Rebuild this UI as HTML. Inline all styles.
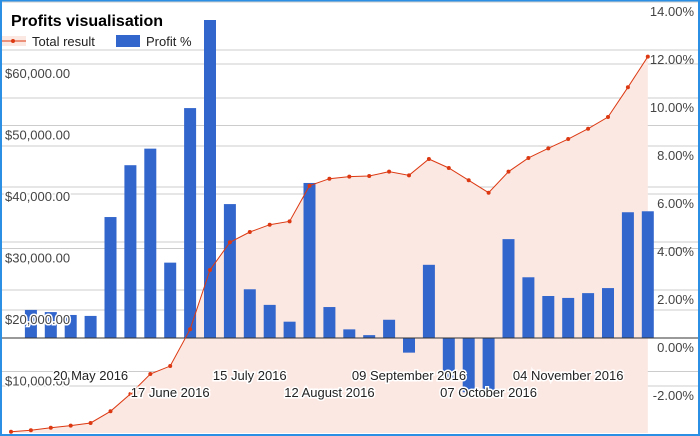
<!DOCTYPE html>
<html><head><meta charset="utf-8"><style>
html,body{margin:0;padding:0;background:#fff}
svg{display:block;font-family:"Liberation Sans",Arial,sans-serif}
</style></head><body>
<svg id="chart" width="700" height="436" viewBox="0 0 700 436">
<rect x="1" y="1" width="698" height="434" fill="#fff" stroke="#2b8fe3" stroke-width="2"/>
<g id="grid"></g><g id="area"></g><g id="bars"></g><g id="line"></g><g id="labels"></g>
<text x="11" y="26" font-size="16" font-weight="bold" fill="#000">Profits visualisation</text>
<g>
<rect x="2" y="36" width="24" height="10" fill="#fce8e3"/>
<line x1="2" y1="41" x2="26" y2="41" stroke="#dc3912" stroke-width="1"/>
<circle cx="13" cy="41" r="2" fill="#dc3912"/>
<text x="32" y="46" font-size="13" fill="#222">Total result</text>
</g>
<g>
<rect x="116" y="35" width="24" height="12" fill="#3366cc"/>
<text x="146" y="46" font-size="13" fill="#222">Profit %</text>
</g>
</svg>
<script>
const totals=[200,440,860,1190,1630,3530,6340,9590,10890,16860,26500,31010,32680,33870,34420,40210,41350,41680,41790,42490,41900,44550,43090,41090,39070,42490,44720,46290,47800,49480,51380,56210,61190];
const profits=[0,1.17,1.08,0.96,0.92,5.04,7.2,7.89,3.14,9.58,13.25,5.58,2.03,1.38,0.68,6.46,1.29,0.36,0.12,0.76,-0.61,3.05,-1.65,-2.26,-2.26,4.12,2.53,1.75,1.67,1.87,2.08,5.24,5.28];
const leftTicks=[10000,20000,30000,40000,50000,60000];
const leftTickLabels=["$10,000.00","$20,000.00","$30,000.00","$40,000.00","$50,000.00","$60,000.00"];
const rightTicks=[-2,0,2,4,6,8,10,12,14];
const rightTickLabels=["-2.00%","0.00%","2.00%","4.00%","6.00%","8.00%","10.00%","12.00%","14.00%"];
const dateIdx=[4,8,12,16,20,24,28];
const dateLabels=["20 May 2016","17 June 2016","15 July 2016","12 August 2016","09 September 2016","07 October 2016","04 November 2016"];
const NS="http://www.w3.org/2000/svg";
function xs(i){return 11+i*19.9;}
function yL(v){return 433-v/10000*61.5;}
function yR(v){return 338-v/2*48;}
function mk(tag,attrs,parent){const e=document.createElementNS(NS,tag);for(const k in attrs)e.setAttribute(k,attrs[k]);parent.appendChild(e);return e;}
const grid=document.getElementById('grid'),area=document.getElementById('area'),bars=document.getElementById('bars'),line=document.getElementById('line'),labels=document.getElementById('labels');
leftTicks.forEach((v,i)=>{
  const l=mk('line',{x1:2,x2:698,y1:yL(v),y2:yL(v),stroke:'#ccc','stroke-width':1},grid);
  
  
  const t=mk('text',{x:5,y:yL(v)+14,'font-size':13,fill:'#444',stroke:'#fff','stroke-width':3,'paint-order':'stroke'},labels);
  t.textContent=leftTickLabels[i];
  
  
});
rightTicks.forEach((v,i)=>{
  if(v!==0){const l=mk('line',{x1:2,x2:698,y1:yR(v),y2:yR(v),stroke:'#ccc','stroke-width':1},grid);
  
  }
  const t=mk('text',{x:694,y:yR(v)+14,'font-size':13,fill:'#444','text-anchor':'end'},labels);
  t.textContent=rightTickLabels[i];
  
  
});
let d='M'+xs(0)+','+yL(0);
totals.forEach((v,i)=>{d+=' L'+xs(i)+','+yL(v);});
d+=' L'+xs(totals.length-1)+','+yL(0)+' Z';
const ar=mk('path',{d:d,fill:'#fce8e3'},area);


profits.forEach((v,i)=>{
  if(v===0)return;
  const y0=yR(0),y1=yR(v);
  const b=mk('rect',{x:xs(i)-6,y:Math.min(y0,y1),width:12,height:Math.abs(y1-y0),fill:'#3366cc'},bars);
  
  
});
const base=mk('line',{x1:2,x2:698,y1:yR(0),y2:yR(0),stroke:'#333','stroke-width':1},bars);


const pl=mk('polyline',{points:totals.map((v,i)=>xs(i)+','+yL(v)).join(' '),fill:'none',stroke:'#dc3912','stroke-width':1},line);


totals.forEach((v,i)=>{
  const c=mk('circle',{cx:xs(i),cy:yL(v),r:2,fill:'#dc3912'},line);
  
  
});
dateIdx.forEach((idx,i)=>{
  const t=mk('text',{x:xs(idx),y:i%2?397:380,'font-size':13,fill:'#222','text-anchor':'middle',stroke:'#fff','stroke-width':3,'paint-order':'stroke'},labels);
  t.textContent=dateLabels[i];
  
  
});
</script>
</body></html>
